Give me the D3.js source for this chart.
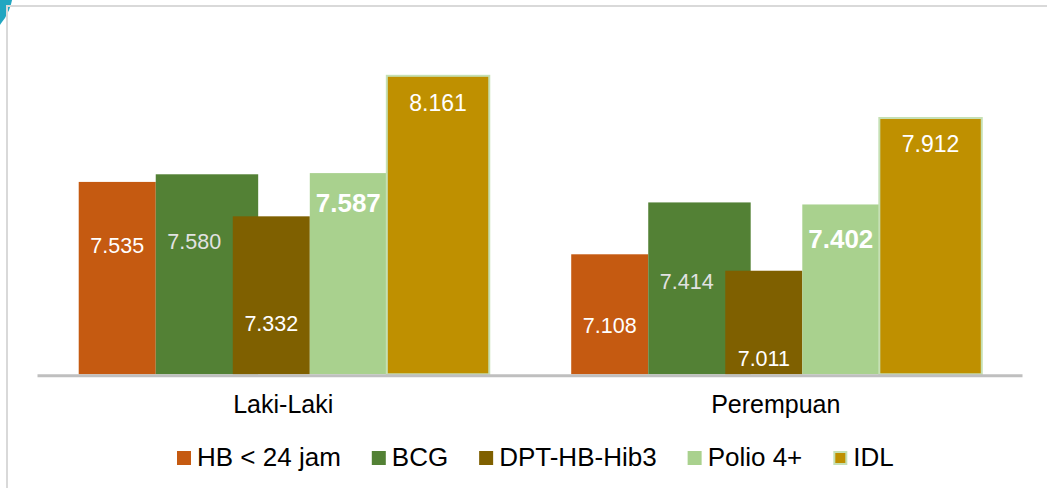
<!DOCTYPE html>
<meta charset="utf-8">
<style>
  body { margin: 0; background: #ffffff; }
  svg { display: block; font-family: "Liberation Sans", Arial, sans-serif; }
</style>
<body>
<script src="https://d3js.org/d3.v7.min.js"></script>
<script>
// data
var categories = ["Laki-Laki", "Perempuan"];
var series = ["HB < 24 jam", "BCG", "DPT-HB-Hib3", "Polio 4+", "IDL"];
var hb    = [7.535, 7.108];
var bcg   = [7.580, 7.414];
var dpt   = [7.332, 7.011];
var polio = [7.587, 7.402];
var idl   = [8.161, 7.912];
var values = [hb, bcg, dpt, polio, idl];

// styling per series
var colors = ["#c55a11", "#538135", "#7f6000", "#a9d18e", "#bf9000"];
var widthFactor = [1, 1.33, 1, 1, 1.33];
var labelColor = ["#ffffff", "#e2e2e2", "#ffffff", "#ffffff", "#ffffff"];
var labelSize = [21.5, 21.5, 21.5, 26, 23];
var labelWeight = ["normal", "normal", "normal", "bold", "normal"];
// label centre, pixels below bar top: [series][category]
var labelDy = [[63, 71], [67, 79], [107, 88], [30, 34], [27, 26]];

var width = 1047, height = 488;

var svg = d3.select("body").append("svg")
    .attr("width", width)
    .attr("height", height);

// frame + corner decoration
svg.append("path")
    .attr("d", d3.arc()({innerRadius: 0, outerRadius: 53, startAngle: 0, endAngle: 2 * Math.PI}))
    .attr("transform", "translate(-40,-10)")
    .attr("fill", "#22a6c1");
svg.append("line").attr("x1", 6).attr("x2", width).attr("y1", 6).attr("y2", 6)
    .attr("stroke", "#d9d9d9").attr("stroke-width", 2);
svg.append("line").attr("x1", 7).attr("x2", 7).attr("y1", 5).attr("y2", height)
    .attr("stroke", "#d9d9d9").attr("stroke-width", 2);

var x0 = d3.scaleBand().domain(categories).range([37, 1022]);
var bw = x0.bandwidth();
var x1 = d3.scaleBand().domain(series).range([bw * 0.0847, bw * (0.0847 + 0.782)]);
var y = d3.scaleLinear().domain([6.4, 8.4]).range([374.3, 35.3]);

var g = svg.append("g");

categories.forEach(function(cat, ci) {
  series.forEach(function(s, si) {
    var v = values[si][ci];
    var xs = x0(cat) + x1(s);
    var w = x1.bandwidth() * widthFactor[si];
    g.append("rect")
      .attr("x", xs)
      .attr("y", y(v))
      .attr("width", w)
      .attr("height", y.range()[0] - y(v))
      .attr("fill", colors[si])
      .attr("stroke", si === 4 ? "#c5e0b4" : "none")
      .attr("stroke-width", 2);
  });
  series.forEach(function(s, si) {
    var v = values[si][ci];
    var xs = x0(cat) + x1(s);
    var xe = xs + x1.bandwidth() * widthFactor[si];
    if (si < series.length - 1) xe = Math.min(xe, x0(cat) + x1(series[si + 1]));
    g.append("text")
      .attr("x", (xs + xe) / 2)
      .attr("y", y(v) + labelDy[si][ci])
      .attr("dy", "0.36em")
      .attr("text-anchor", "middle")
      .attr("fill", labelColor[si])
      .style("font-size", labelSize[si] + "px")
      .style("font-weight", labelWeight[si])
      .text(d3.format(".3f")(v));
  });
});

// baseline + category axis
var xAxis = svg.append("g")
    .attr("transform", "translate(0," + (y.range()[0] + 1) + ")")
    .call(d3.axisBottom(x0).tickSize(0).tickPadding(20));
xAxis.select(".domain").attr("stroke", "#bfbfbf").attr("stroke-width", 3);
xAxis.selectAll("text").style("font-size", "25px").attr("fill", "#000")
    .attr("font-family", "Liberation Sans, Arial, sans-serif");

// legend
var legend = svg.append("g").attr("transform", "translate(177,451)");
var lx = 0;
series.forEach(function(s, si) {
  var item = legend.append("g").attr("transform", "translate(" + lx + ",0)");
  item.append("rect")
    .attr("x", si === 4 ? 1 : 0).attr("y", si === 4 ? 1 : 0)
    .attr("width", si === 4 ? 12 : 14).attr("height", si === 4 ? 12 : 14)
    .attr("fill", colors[si])
    .attr("stroke", si === 4 ? "#c5e0b4" : "none")
    .attr("stroke-width", 2);
  var t = item.append("text")
    .attr("x", 20)
    .attr("y", 15)
    .style("font-size", "26px")
    .attr("fill", "#000")
    .text(s);
  lx += 20 + t.node().getComputedTextLength() + 31;
});
</script>
</body>
</html>
